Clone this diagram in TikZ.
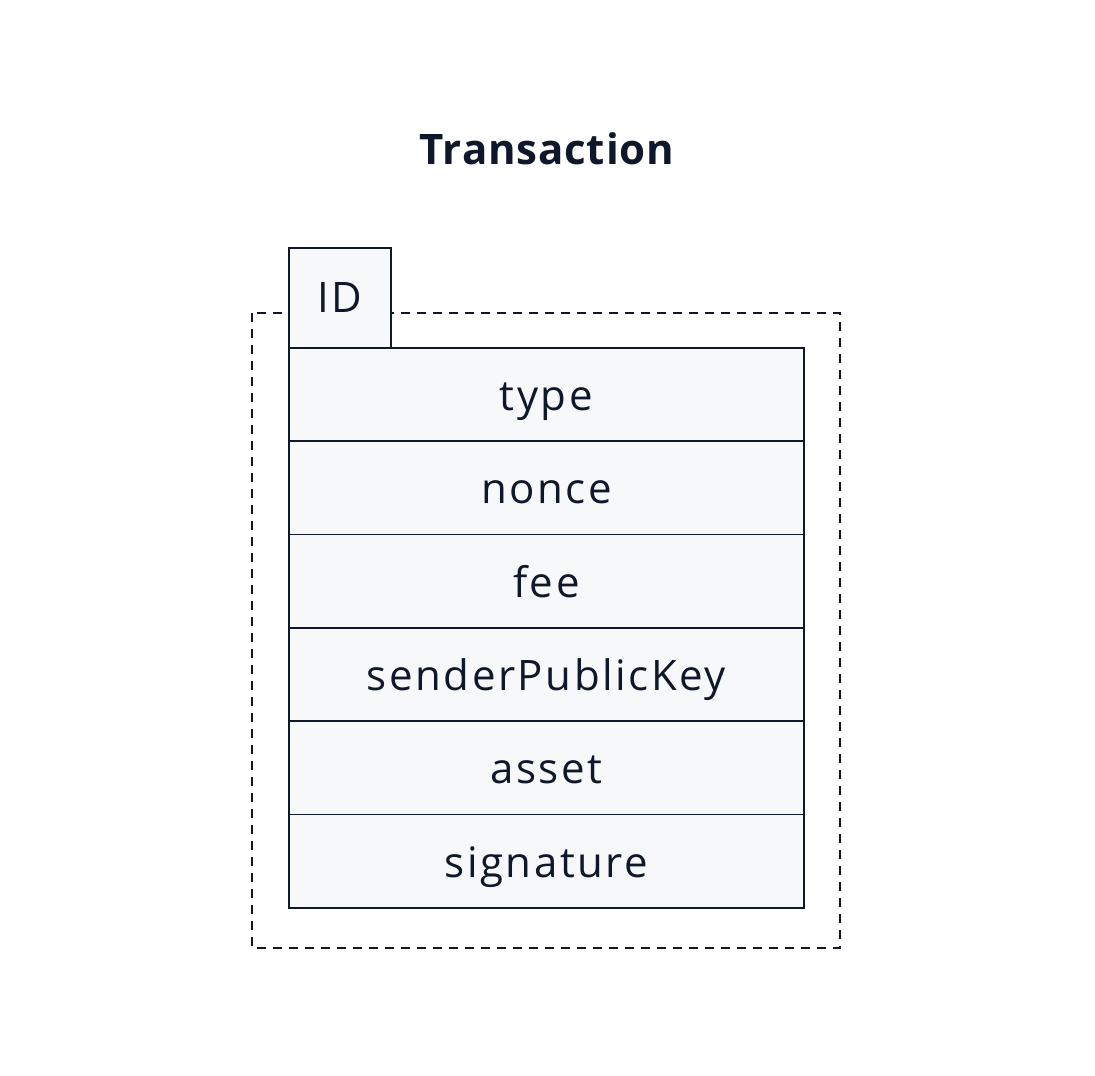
\documentclass[tikz,border=0pt]{standalone}
\usepackage{fontspec}
\setmainfont{Open Sans}
\newfontfamily\cellfont[LetterSpace=6]{Open Sans}
\newfontfamily\titlefont[LetterSpace=2]{Open Sans Bold}
\definecolor{ink}{HTML}{0F172A}
\definecolor{cellfill}{HTML}{F6F8FA}
\begin{document}
\begin{tikzpicture}[x=1pt,y=-1pt,
  cell/.style={draw=ink, fill=cellfill, line width=1.8pt, minimum width=515pt, minimum height=93.3pt, inner sep=0pt, text height=32pt, text depth=0pt, anchor=north west, text=ink, font=\cellfont\fontsize{42}{48}\selectfont},
  idcell/.style={cell, minimum width=102pt, minimum height=100pt, text height=30pt},
  frame/.style={draw=ink, line width=1.6pt, dash pattern=on 9pt off 7pt}]
\useasboundingbox (0,0) rectangle (1095,1076);
\node[font=\titlefont\fontsize{42}{48}\selectfont, text=ink] (title) at (547,149) {Transaction};
\draw[frame] (252,313) rectangle (840,948);
\node[idcell] (id) at (288,247) {ID};
\node[cell] (r1) at (288,347) {type};
\node[cell] (r2) at (288,440.3) {nonce};
\node[cell] (r3) at (288,533.6) {fee};
\node[cell] (r4) at (288,626.9) {senderPublicKey};
\node[cell] (r5) at (288,720.2) {asset};
\node[cell] (r6) at (288,813.5) {signature};
\end{tikzpicture}
\end{document}
